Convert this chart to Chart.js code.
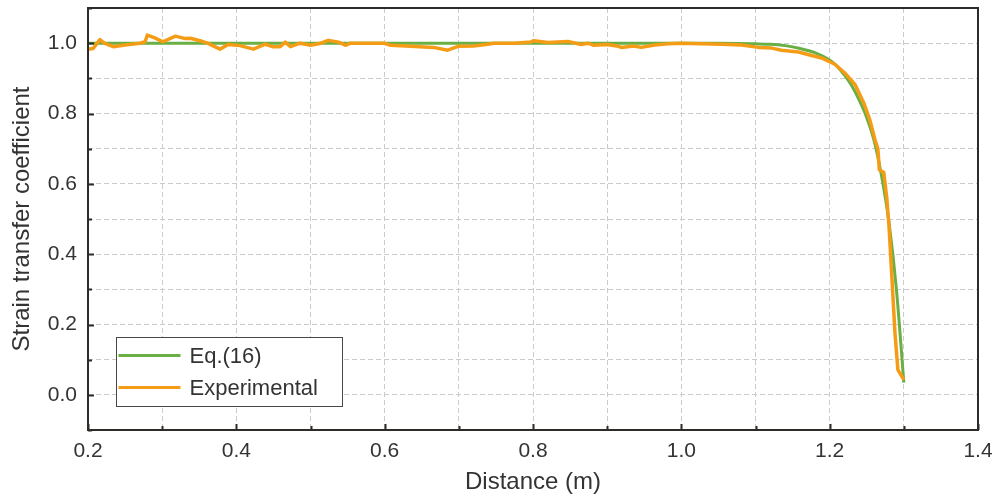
<!DOCTYPE html>
<html>
<head>
<meta charset="utf-8">
<script src="https://cdn.jsdelivr.net/npm/chart.js@4.4.1/dist/chart.umd.min.js"></script>
<style>
	html, body { margin: 0; padding: 0; background: #fff; }
	canvas { display: block; }
</style>
</head>
<body>
<canvas id="strainChart" width="992" height="502"></canvas>
<script>

// Eq.(16) - analytical curve
const eqDistance = [0.2, 0.6, 1.0, 1.05, 1.1, 1.12, 1.14, 1.16, 1.18, 1.2, 1.21, 1.22, 1.23, 1.24, 1.25, 1.26, 1.27, 1.28, 1.29, 1.3];
const eqCoefficient = [1.0, 1.0, 1.0, 0.9995, 0.998, 0.997, 0.993, 0.985, 0.973, 0.952, 0.934, 0.909, 0.878, 0.837, 0.788, 0.722, 0.622, 0.49, 0.3, 0.035];

// Experimental - measured curve
const expDistance = [
	0.2, 0.207, 0.216, 0.222, 0.234, 0.25, 0.27, 0.277, 0.28, 0.29,
	0.301, 0.318, 0.331, 0.338, 0.351, 0.361, 0.378, 0.389, 0.405, 0.423,
	0.439, 0.449, 0.459, 0.466, 0.473, 0.486, 0.5, 0.514, 0.524, 0.538,
	0.547, 0.554, 0.575, 0.599, 0.608, 0.635, 0.666, 0.685, 0.699, 0.72,
	0.739, 0.747, 0.775, 0.797, 0.801, 0.82, 0.847, 0.865, 0.874, 0.882,
	0.9, 0.915, 0.919, 0.936, 0.946, 0.964, 0.982, 1.0, 1.027, 1.054,
	1.081, 1.104, 1.122, 1.135, 1.158, 1.172, 1.189, 1.207, 1.22, 1.234,
	1.246, 1.254, 1.261, 1.265, 1.267, 1.273, 1.277, 1.28, 1.284, 1.288,
	1.292, 1.3
];
const expCoefficient = [
	0.983, 0.985, 1.01, 1.0, 0.99, 0.995, 1.0, 1.004, 1.023, 1.015,
	1.004, 1.02, 1.013, 1.014, 1.007, 1.0, 0.983, 0.996, 0.993, 0.983,
	0.997, 0.99, 0.99, 1.003, 0.99, 1.0, 0.994, 1.0, 1.008, 1.003,
	0.994, 1.0, 1.0, 1.0, 0.994, 0.991, 0.988, 0.98, 0.991, 0.992,
	0.997, 1.0, 1.0, 1.003, 1.007, 1.002, 1.005, 0.996, 1.0, 0.994,
	0.996, 0.991, 0.988, 0.992, 0.988, 0.995, 0.998, 1.0, 0.998, 0.997,
	0.995, 0.988, 0.986, 0.98, 0.975, 0.967, 0.958, 0.94, 0.916, 0.883,
	0.83, 0.783, 0.726, 0.7, 0.64, 0.632, 0.56, 0.48, 0.33, 0.177,
	0.071, 0.043
];

const xTickLabels = ["0.2", "0.4", "0.6", "0.8", "1.0", "1.2", "1.4"];
const yTickLabels = ["0.0", "0.2", "0.4", "0.6", "0.8", "1.0"];

const seriesNames = ["Eq.(16)", "Experimental"];
const GREEN = "#6aaf44";
const ORANGE = "#f59c16";
const INK = "#2f2b29";
const FONT = "'Liberation Sans', Arial, sans-serif";


function labelFor(list, value) {
	const text = value.toFixed(1);
	return list.includes(text) ? text : "";
}


// frame + inward ticks, like the original plot
const framePlugin = {
	id: "frame",
	afterDatasetsDraw(chart) {
		const { ctx, chartArea: a, scales } = chart;
		ctx.save();
		ctx.strokeStyle = INK;
		ctx.lineWidth = 2;

		for (const t of scales.x.ticks) {
			const px = Math.round(scales.x.getPixelForValue(t.value)) + 0.5;
			const len = labelFor(xTickLabels, t.value) ? 6 : 4;
			ctx.beginPath();
			ctx.moveTo(px, a.bottom);
			ctx.lineTo(px, a.bottom - len);
			ctx.stroke();
		}
		for (const t of scales.y.ticks) {
			const py = Math.round(scales.y.getPixelForValue(t.value)) + 0.5;
			const len = labelFor(yTickLabels, t.value) ? 6 : 4;
			ctx.beginPath();
			ctx.moveTo(a.left, py);
			ctx.lineTo(a.left + len, py);
			ctx.stroke();
		}

		ctx.strokeRect(a.left, a.top, a.right - a.left, a.bottom - a.top);
		ctx.restore();
	},
};

const legendPlugin = {
	id: "insideLegend",
	afterDraw(chart) {
		const { ctx } = chart;
		const box = { left: 116.5, top: 337.5, width: 226, height: 69 };
		ctx.save();
		ctx.fillStyle = "#fff";
		ctx.fillRect(box.left, box.top, box.width, box.height);
		ctx.strokeStyle = "#4a4644";
		ctx.lineWidth = 1;
		ctx.strokeRect(box.left, box.top, box.width, box.height);

		ctx.font = "22px " + FONT;
		ctx.textBaseline = "middle";
		chart.data.datasets.forEach((ds, i) => {
			const y = box.top + 18 + i * 32;
			ctx.strokeStyle = ds.borderColor;
			ctx.lineWidth = 3;
			ctx.beginPath();
			ctx.moveTo(box.left + 2, y);
			ctx.lineTo(box.left + 64, y);
			ctx.stroke();
			ctx.fillStyle = "#333";
			ctx.fillText(ds.label, box.left + 73, y + 1);
		});
		ctx.restore();
	},
};


const gridOptions = {
	color: "#cbcbcb",
	lineWidth: 1,
	drawTicks: false,
};

new Chart(document.getElementById("strainChart"), {
	type: "line",
	data: {
		datasets: [
			{
				label: seriesNames[0],
				data: eqDistance.map((d, i) => ({ x: d, y: eqCoefficient[i] })),
				borderColor: GREEN,
				borderWidth: 3,
				pointRadius: 0,
				tension: 0.3,
				order: 2,
			},
			{
				label: seriesNames[1],
				data: expDistance.map((d, i) => ({ x: d, y: expCoefficient[i] })),
				borderColor: ORANGE,
				borderWidth: 3.5,
				pointRadius: 0,
				tension: 0,
				borderJoinStyle: "round",
				order: 1,
			},
		],
	},
	options: {
		responsive: false,
		animation: false,
		layout: {
			padding: { top: 8, right: 14, left: 0, bottom: 0 },
		},
		plugins: {
			legend: { display: false },
			tooltip: { enabled: false },
		},
		scales: {
			x: {
				type: "linear",
				min: 0.2,
				max: 1.4,
				afterFit: (s) => {
					s.height = 72;
					s.paddingLeft = 0;
					s.paddingRight = 0;
				},
				ticks: {
					stepSize: 0.1,
					autoSkip: false,
					maxRotation: 0,
					padding: 9,
					color: "#333",
					font: { size: 21, family: FONT },
					callback: (v) => labelFor(xTickLabels, v),
				},
				grid: gridOptions,
				border: { display: false, dash: [5, 3] },
				title: {
					display: true,
					text: "Distance (m)",
					color: "#333",
					font: { size: 24, family: FONT, lineHeight: 1 },
					padding: { top: 0, bottom: 8 },
				},
			},
			y: {
				min: -0.1,
				max: 1.1,
				afterFit: (s) => {
					s.width = 88;
					s.paddingTop = 0;
					s.paddingBottom = 0;
				},
				ticks: {
					stepSize: 0.1,
					autoSkip: false,
					padding: 11,
					color: "#333",
					font: { size: 21, family: FONT },
					callback: (v) => labelFor(yTickLabels, v),
				},
				grid: gridOptions,
				border: { display: false, dash: [5, 3] },
				title: {
					display: true,
					text: "Strain transfer coefficient",
					color: "#333",
					font: { size: 24, family: FONT, lineHeight: 1 },
					padding: { top: 10, bottom: 0 },
				},
			},
		},
	},
	plugins: [framePlugin, legendPlugin],
});
</script>
</body>
</html>
